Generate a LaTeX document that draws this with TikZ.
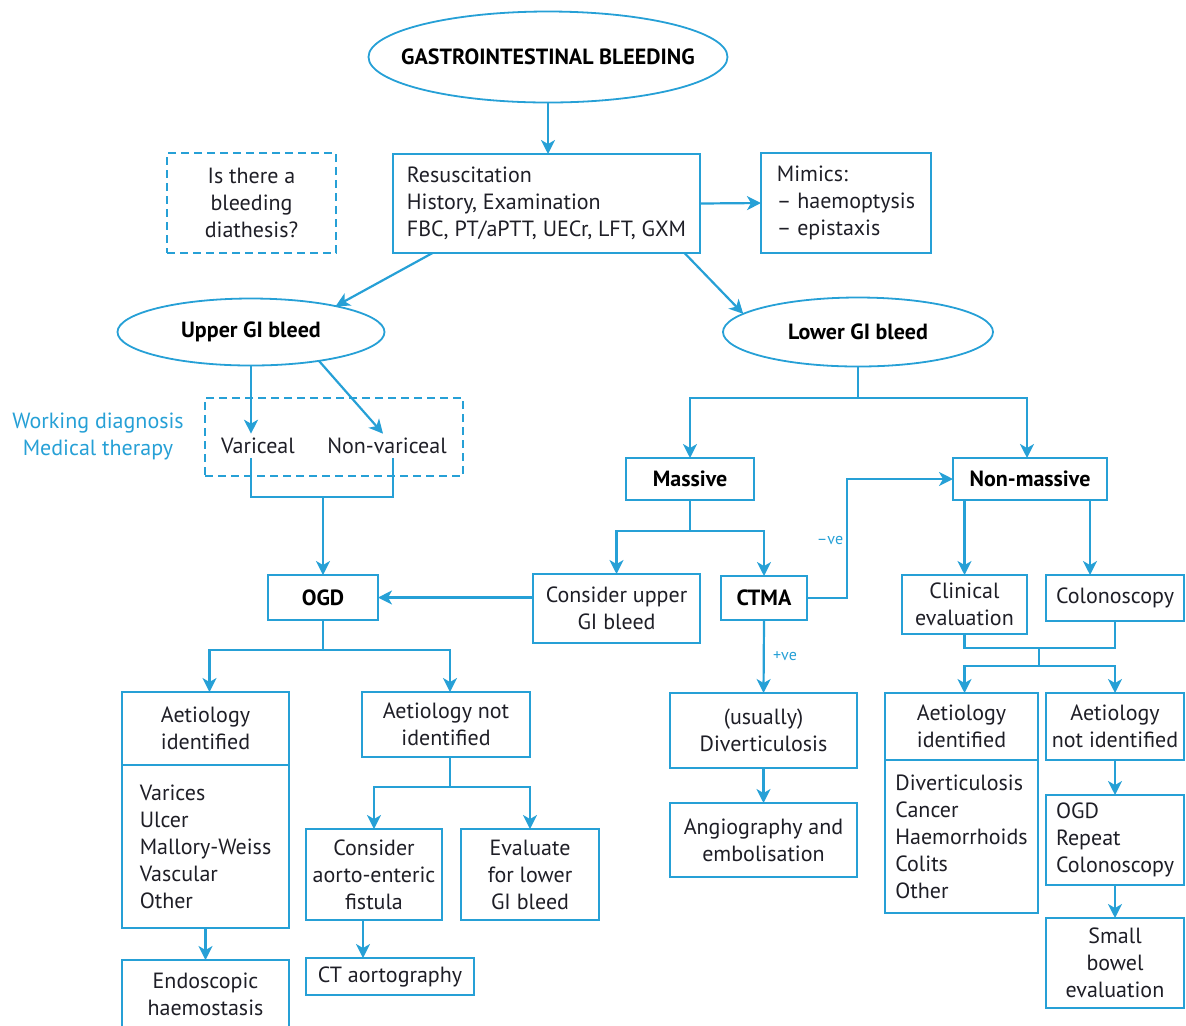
\documentclass[tikz,border=0pt]{standalone}
\usepackage{fontspec}
\setmainfont{PT Sans}
\usetikzlibrary{positioning,shapes.geometric,arrows.meta}
\definecolor{gibblue}{RGB}{38,160,214}
\definecolor{gibtext}{RGB}{30,30,38}

\begin{document}
\begin{tikzpicture}[x=0.5pt,y=-0.5pt,
    every node/.style={font=\fontsize{11}{13.5}\selectfont, text=gibtext},
    box/.style={draw=gibblue, line width=1.1pt, align=center, inner sep=0pt, outer sep=0pt},
    lbox/.style={box, align=left},
    dbox/.style={box, dash pattern=on 4pt off 2.5pt},
    oval/.style={ellipse, draw=gibblue, line width=0.9pt, inner sep=0pt, outer sep=0pt},
    hd/.style={font=\fontsize{11}{13.5}\selectfont\bfseries, text=black},
    txt/.style={inner sep=2pt},
    lbl/.style={font=\fontsize{8}{9}\selectfont, text=gibblue},
    ln/.style={draw=gibblue, line width=1.1pt},
    arr/.style={ln, -{Stealth[length=7pt,width=7pt,inset=2pt]}}]

  \useasboundingbox (0,0) rectangle (1186,1025);
  \clip (0,0) rectangle (1186,1025);

  % top of the chart
  \node[oval, hd, inner xsep=-11pt, minimum width=179.5pt, minimum height=45.5pt] (gib) at (548,57) {GASTROINTESTINAL BLEEDING};
  \node[lbox, minimum width=153.5pt, minimum height=49.5pt] (resus) at (546.5,203.5) {Resuscitation\\History, Examination\\FBC, PT/aPTT, UECr, LFT, GXM};
  \node[lbox, minimum width=85pt, minimum height=50pt] (mimics) at (846,203) {Mimics:\\– haemoptysis\\– epistaxis};
  \node[dbox, minimum width=84.5pt, minimum height=50pt] (diath) at (251.5,203) {Is there a\\bleeding\\diathesis?};
  \node[oval, hd, minimum width=133.5pt, minimum height=33.5pt] (upper) at (251,332) {Upper GI bleed};
  \node[oval, hd, minimum width=135pt, minimum height=34.5pt] (lower) at (858,332) {Lower GI bleed};

  % upper GI side
  \node[dbox, minimum width=129pt, minimum height=39pt] (work) at (334,437) {};
  \node[txt] (var) at (258,446) {Variceal};
  \node[txt] (nonvar) at (387,446) {Non-variceal};
  \node[txt, align=center, text=gibblue] (wdx) at (98,436) {Working diagnosis\\Medical therapy};
  \node[box, hd, minimum width=55pt, minimum height=22.5pt] (ogd) at (323,597.5) {OGD};
  \node[box, minimum width=83.5pt, minimum height=36.5pt] (aidLh) at (205.5,728.5) {Aetiology\\identified};
  \node[lbox, minimum width=83.5pt, minimum height=81.5pt, below=0pt of aidLh] (aidLl) {Varices\\Ulcer\\Mallory-Weiss\\Vascular\\Other};
  \node[box, minimum width=83.5pt, minimum height=34pt, anchor=north] (endo) at (205.5,960) {Endoscopic\\haemostasis};
  \node[box, minimum width=84pt, minimum height=32.5pt] (anidL) at (446,724.5) {Aetiology not\\identified};
  \node[box, minimum width=68pt, minimum height=45.5pt] (fistula) at (374,874.5) {Consider\\aorto-enteric\\fistula};
  \node[box, minimum width=69pt, minimum height=45.5pt] (evall) at (530,874.5) {Evaluate\\for lower\\GI bleed};
  \node[box, minimum width=84pt, minimum height=18.5pt] (ctaort) at (390,976.5) {CT aortography};

  % lower GI side
  \node[box, hd, minimum width=64pt, minimum height=21pt] (massive) at (690,479) {Massive};
  \node[box, hd, minimum width=77pt, minimum height=21pt] (nonmass) at (1030,479) {Non-massive};
  \node[box, minimum width=83.5pt, minimum height=34.5pt] (cupper) at (616.5,608.5) {Consider upper\\GI bleed};
  \node[box, hd, minimum width=43pt, minimum height=22pt] (ctma) at (764,598) {CTMA};
  \node[box, minimum width=93.5pt, minimum height=37.5pt] (usual) at (763.5,730.5) {(usually)\\Diverticulosis};
  \node[box, minimum width=93.5pt, minimum height=37pt] (angio) at (763.5,840) {Angiography and\\embolisation};
  \node[box, minimum width=62.5pt, minimum height=29.5pt] (clin) at (964.5,604.5) {Clinical\\evaluation};
  \node[box, minimum width=69pt, minimum height=23pt] (colono) at (1115,598) {Colonoscopy};
  \node[box, minimum width=76.5pt, minimum height=33.5pt] (aidRh) at (961.5,726.5) {Aetiology\\identified};
  \node[lbox, minimum width=76.5pt, minimum height=76.5pt, below=0pt of aidRh] (aidRl) {Diverticulosis\\Cancer\\Haemorrhoids\\Colits\\Other};
  \node[box, minimum width=69pt, minimum height=33.5pt] (anidR) at (1115,726.5) {Aetiology\\not identified};
  \node[lbox, minimum width=69pt, minimum height=45pt] (ogdR) at (1115,840) {OGD\\Repeat\\Colonoscopy};
  \node[box, minimum width=69pt, minimum height=45pt] (bowel) at (1115,963) {Small\\bowel\\evaluation};
  \node[lbl] (neg) at (830,540) {–ve};
  \node[lbl] (pos) at (785,656) {+ve};

  % connectors
  \draw[arr] (gib.south) -- (gib.south |- resus.north);
  \draw[arr] (resus.east) -- (mimics.west);
  \draw[arr] ([xshift=-57pt]resus.south) -- (upper.17);
  \draw[arr] ([xshift=69pt]resus.south) -- (lower.171);

  \draw[arr] (upper.south) -- (upper.south |- var.north);
  \draw[arr] (upper.-23) -- ([xshift=-2pt]nonvar.north);
  \coordinate (ujoin) at (323,497);
  \draw[ln] (upper.south |- var.south) |- (ujoin) -| ([xshift=3pt]nonvar.south);
  \draw[arr] (ujoin) -- (ogd.north);
  \coordinate (osplit) at (323,650);
  \draw[ln] (ogd.south) -- (osplit);
  \draw[arr] (osplit) -| ([xshift=2pt]aidLh.north);
  \draw[arr] (osplit) -| ([xshift=2pt]anidL.north);
  \draw[arr] (aidLl.south) -- (endo.north);
  \coordinate (asplit) at (450,787);
  \draw[ln] ([xshift=2pt]anidL.south) -- (asplit);
  \draw[arr] (asplit) -| (fistula.north);
  \draw[arr] (asplit) -| (evall.north);
  \draw[arr] ([xshift=-5.5pt]fistula.south) -- ([xshift=-5.5pt]fistula.south |- ctaort.north);

  \coordinate (lsplit) at (858,398);
  \draw[ln] (lower.south) -- (lsplit);
  \draw[arr] (lsplit) -| (massive.north);
  \draw[arr] (lsplit) -| ([xshift=-1.5pt]nonmass.north);
  \coordinate (msplit) at (690,531);
  \draw[ln] (massive.south) -- (msplit);
  \draw[arr] (msplit) -| (cupper.north);
  \draw[arr] (msplit) -| (ctma.north);
  \draw[arr] (cupper.west |- ogd.east) -- (ogd.east);
  \draw[arr] (ctma.east) -- ++(40,0) |- (nonmass.west);
  \draw[arr] (ctma.south) -- (usual.north);
  \draw[arr] (usual) -- (angio);

  \draw[arr] (clin.north |- nonmass.south) -- (clin.north);
  \draw[arr] ([xshift=-8.5pt]nonmass.south east) -- ([xshift=-8.5pt]nonmass.south east |- colono.north);
  \coordinate (cjoin) at (1039,648);
  \draw[ln] (clin.south) |- (cjoin) -| (colono.south);
  \coordinate (csplit) at (1039,666);
  \draw[ln] (cjoin) -- (csplit);
  \draw[arr] (csplit) -| ([xshift=1.5pt]aidRh.north);
  \draw[arr] (csplit) -| (anidR.north);
  \draw[arr] (anidR) -- (ogdR);
  \draw[arr] (ogdR) -- (bowel);
\end{tikzpicture}
\end{document}
